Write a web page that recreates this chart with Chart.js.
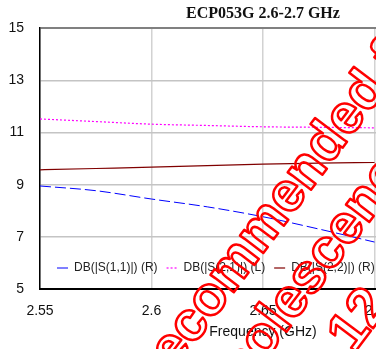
<!DOCTYPE html>
<html><head><meta charset="utf-8">
<script src="https://cdn.jsdelivr.net/npm/chart.js@4/dist/chart.umd.min.js"></script>
<style>
html,body{margin:0;padding:0;overflow:hidden;background:#fff;width:376px;height:349px}
#wrap{position:absolute;left:0;top:0;width:526px;height:349px}
</style>
</head><body><div id="wrap"><canvas id="c" width="526" height="349"></canvas></div>
<script>
// ---- data ----
const freqGHz = [2.55, 2.575, 2.6, 2.625, 2.65, 2.675, 2.7];
const s11 = [8.95, 8.77, 8.45, 8.15, 7.77, 7.30, 6.80];
const s21 = [11.52, 11.42, 11.32, 11.27, 11.22, 11.20, 11.18];
const s22 = [9.57, 9.62, 9.67, 9.73, 9.79, 9.83, 9.85];
const seriesLabels = ['DB(|S(1,1)|) (R)', 'DB(|S(2,1)|) (L)', 'DB(|S(2,2)|) (R)'];
const xTicks = [2.55, 2.6, 2.65, 2.7, 2.75];
const yTicks = [5, 7, 9, 11, 13, 15];
const titleText = 'ECP053G 2.6-2.7 GHz';
const xTitle = 'Frequency (GHz)';
const watermarkLines = ['Not recommended for new designs', 'obsolescence', '12'];

const SANS = '"Liberation Sans", Arial, sans-serif';
const SERIF = '"Liberation Serif", "Times New Roman", serif';

const toPts = ys => freqGHz.map((f, i) => ({x: f, y: ys[i]}));

const legendPlugin = {
  id: 'inLegend',
  afterDatasetsDraw(chart) {
    const {ctx, chartArea} = chart;
    ctx.save();
    ctx.font = '12px ' + SANS;
    ctx.textBaseline = 'middle';
    ctx.textAlign = 'left';
    let x = chartArea.left + 17;
    const y = chartArea.bottom - 21;
    chart.data.datasets.forEach(ds => {
      ctx.strokeStyle = ds.borderColor;
      ctx.lineWidth = ds.borderWidth;
      ctx.setLineDash(ds.legendDash || []);
      ctx.beginPath(); ctx.moveTo(x, y); ctx.lineTo(x + 11, y); ctx.stroke();
      ctx.setLineDash([]);
      ctx.fillStyle = '#222';
      ctx.fillText(ds.label, x + 17, y);
      x += 17 + ctx.measureText(ds.label).width + 9;
    });
    ctx.restore();
  }
};

const watermarkPlugin = {
  id: 'watermark',
  afterDraw(chart) {
    const ctx = chart.ctx;
    const ang = 53 * Math.PI / 180;
    ctx.save();
    ctx.font = 'bold 55px ' + SANS;
    ctx.strokeStyle = '#ff0000';
    ctx.lineWidth = 2.5;
    ctx.lineJoin = 'round';
    const anchors = [
      {text: watermarkLines[0], pre: 'Not rec', x: 211.3, y: 322},
      {text: watermarkLines[1], pre: 'obsoles', x: 330.2, y: 273.8},
      {text: watermarkLines[2], pre: '', x: 353.5, y: 354.1}
    ];
    anchors.forEach(a => {
      const w = ctx.measureText(a.pre).width;
      ctx.save();
      ctx.translate(a.x, a.y);
      ctx.rotate(-ang);
      ctx.strokeText(a.text, -w, 0);
      ctx.restore();
    });
    ctx.restore();
  }
};

new Chart(document.getElementById('c'), {
  type: 'line',
  data: {
    datasets: [
      {label: seriesLabels[0], data: toPts(s11), borderColor: '#0000ff', borderWidth: 1, borderDash: [11, 4], legendDash: [], pointRadius: 0, cubicInterpolationMode: 'monotone', fill: false},
      {label: seriesLabels[1], data: toPts(s21), borderColor: '#ff00ff', borderWidth: 1.2, borderDash: [2, 2], legendDash: [2, 2], pointRadius: 0, cubicInterpolationMode: 'monotone', fill: false},
      {label: seriesLabels[2], data: toPts(s22), borderColor: '#800000', borderWidth: 1.2, legendDash: [], pointRadius: 0, cubicInterpolationMode: 'monotone', fill: false}
    ]
  },
  options: {
    responsive: false,
    animation: false,
    devicePixelRatio: 1,
    layout: {padding: 0},
    plugins: {
      legend: {display: false},
      tooltip: {enabled: false},
      title: {
        display: true, text: titleText, color: '#111',
        font: {family: SERIF, size: 16, weight: 'bold'},
        padding: {top: 4, bottom: 5}
      }
    },
    scales: {
      x: {
        type: 'linear', min: xTicks[0], max: xTicks[xTicks.length - 1],
        afterBuildTicks: s => { s.ticks = xTicks.map(v => ({value: v})); },
        ticks: {
          callback: v => String(+Number(v).toFixed(2)),
          font: {family: SANS, size: 14}, color: '#111', padding: 14, maxRotation: 0, autoSkip: false
        },
        grid: {color: '#d2d2d2', lineWidth: 1.5, drawTicks: false},
        border: {color: '#000', width: 2},
        title: {display: true, text: xTitle, color: '#111', font: {family: SANS, size: 14}, padding: {top: 2, bottom: 8}},
        afterFit: s => { s.height = 60; }
      },
      y: {
        min: yTicks[0], max: yTicks[yTicks.length - 1],
        afterBuildTicks: s => { s.ticks = yTicks.map(v => ({value: v})); },
        ticks: {font: {family: SANS, size: 14}, color: '#111', padding: 16},
        grid: {
          color: c => c.tick && c.tick.value === 15 ? '#808080' : (c.tick && c.tick.value === 5 ? '#000' : '#c4c4c4'),
          lineWidth: c => c.tick && c.tick.value === 15 ? 2 : 1.5,
          drawTicks: false
        },
        border: {color: '#000', width: 1.5},
        afterFit: s => { s.width = 40; }
      },
      yR: {
        position: 'right', min: yTicks[0], max: yTicks[yTicks.length - 1],
        ticks: {display: false},
        grid: {drawOnChartArea: false, drawTicks: false},
        border: {display: false},
        afterFit: s => { s.width = 40; }
      }
    }
  },
  plugins: [legendPlugin, watermarkPlugin]
});
</script>
</body></html>
